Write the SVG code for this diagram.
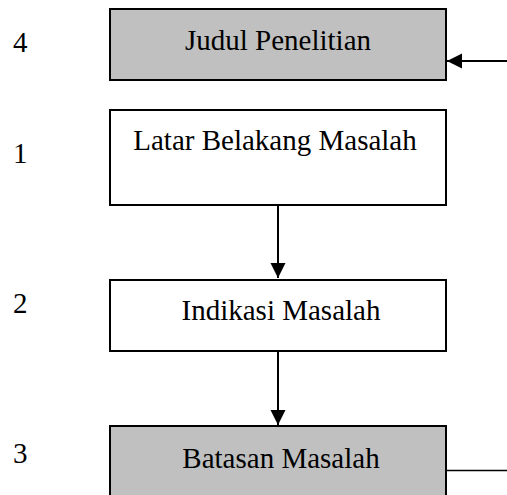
<svg xmlns="http://www.w3.org/2000/svg" width="507" height="495" viewBox="0 0 507 495">
<style>
.box{stroke:#000;stroke-width:2}
.grey{fill:#c0c0c0}
.white{fill:#fff}
.t{font-family:"Liberation Serif","Times New Roman",serif;font-size:29px;fill:#000}
.c{stroke:#000;stroke-width:2;fill:none}
</style>
<defs>
<marker id="ah" markerUnits="userSpaceOnUse" markerWidth="16" markerHeight="16" refX="15" refY="7.5" orient="auto">
<path d="M0,0 L15,7.5 L0,15 z" fill="#000"/>
</marker>
</defs>
<rect width="507" height="495" fill="#fff"/>
<g id="labels">
<text class="t" x="13" y="52">4</text>
<text class="t" x="13" y="163">1</text>
<text class="t" x="13" y="313">2</text>
<text class="t" x="13" y="463">3</text>
</g>
<g id="judul">
<rect class="box grey" x="110" y="9" width="336" height="71"/>
<text class="t" x="278" y="50" text-anchor="middle">Judul Penelitian</text>
</g>
<g id="latar">
<rect class="box white" x="110" y="110" width="336" height="95"/>
<text class="t" x="275" y="150" text-anchor="middle">Latar Belakang Masalah</text>
</g>
<g id="indikasi">
<rect class="box white" x="110" y="280" width="336" height="71"/>
<text class="t" x="281" y="320" text-anchor="middle">Indikasi Masalah</text>
</g>
<g id="batasan">
<rect class="box grey" x="110" y="426" width="336" height="80"/>
<text class="t" x="281" y="468" text-anchor="middle">Batasan Masalah</text>
</g>
<g id="connectors">
<line class="c" x1="278" y1="206" x2="278" y2="278" marker-end="url(#ah)"/>
<line class="c" x1="278" y1="352" x2="278" y2="425" marker-end="url(#ah)"/>
<line class="c" x1="507" y1="61" x2="447" y2="61" marker-end="url(#ah)"/>
<line class="c" x1="447" y1="470.5" x2="507" y2="470.5" style="stroke-width:1.5"/>
</g>
</svg>
